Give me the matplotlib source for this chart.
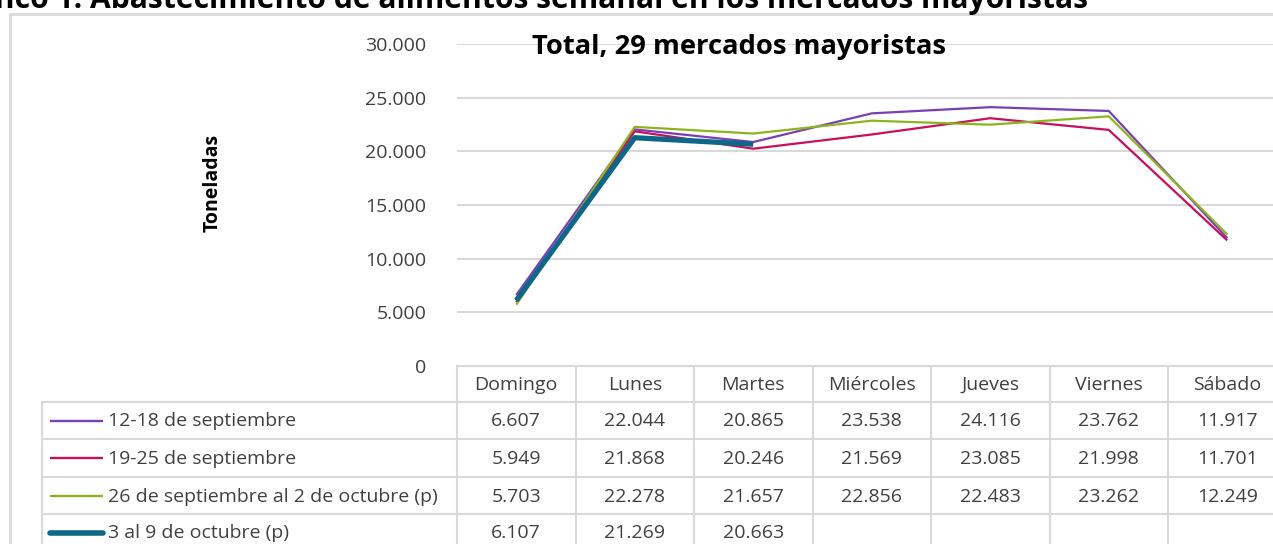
import matplotlib
matplotlib.use("Agg")
import matplotlib.pyplot as plt
from matplotlib.lines import Line2D

plt.rcParams['font.family'] = ['Open Sans', 'DejaVu Sans']

days = ["Domingo", "Lunes", "Martes", "Miércoles", "Jueves", "Viernes", "Sábado"]
series_names = [
    "12-18 de septiembre",
    "19-25 de septiembre",
    "26 de septiembre al 2 de octubre (p)",
    "3 al 9 de octubre (p)",
]
sep_12_18 = [6607, 22044, 20865, 23538, 24116, 23762, 11917]
sep_19_25 = [5949, 21868, 20246, 21569, 23085, 21998, 11701]
sep26_oct2 = [5703, 22278, 21657, 22856, 22483, 23262, 12249]
oct_3_9 = [6107, 21269, 20663]
yticks = [0, 5000, 10000, 15000, 20000, 25000, 30000]

colors = ['#7B3FB5', '#C8105A', '#8DB31E', '#0E6688']
widths = [1.6, 1.6, 1.6, 3.8]
all_series = [sep_12_18, sep_19_25, sep26_oct2, oct_3_9]

W, H = 1273, 544
GRID = '#D9D9D9'
TXT = '#404040'

fig = plt.figure(figsize=(W / 100, H / 100), dpi=100)

# plot area: columns start at 457px, 118.5px each (last one runs off the image)
x0, colw, y0, y30 = 457, 118.5, 366, 44
ax = fig.add_axes([x0 / W, 1 - y0 / H, 7 * colw / W, (y0 - y30) / H])
for vals, c, lw in zip(all_series, colors, widths):
    ax.plot(range(len(vals)), vals, color=c, lw=lw, solid_capstyle='butt', zorder=3)
ax.set_xlim(-0.5, 6.5)
ax.set_ylim(0, 30000)
ax.set_yticks(yticks)
ax.set_yticklabels([f"{v:,}".replace(",", ".") for v in yticks])
ax.set_xticks([])
ax.tick_params(axis='y', length=0, pad=22, labelsize=14, labelcolor=TXT)
ax.yaxis.grid(True, color=GRID, lw=1.5)
ax.set_axisbelow(True)
for s in ax.spines.values():
    s.set_visible(False)

fig.text(532 / W, 1 - 54 / H, "Total, 29 mercados mayoristas", ha='left',
         va='baseline', fontsize=19.7, fontweight='bold', color='black')

# data table under the plot, sharing the day positions of the plot
tb = fig.add_axes([x0 / W, 0, 7 * colw / W, (H - y0) / H])
tb.set_xlim(-0.5, 6.5)
tb.set_ylim(H - y0, 0)
tb.axis('off')
leg_left = -0.5 - (x0 - 42) / colw
rows = [0, 36, 73, 111, 148, 185]
kw = dict(color=GRID, lw=1.5, clip_on=False)
tb.plot([-0.5, 7.5], [rows[0]] * 2, **kw)
for r in rows[1:]:
    tb.plot([leg_left, 7.5], [r, r], **kw)
for k in range(8):
    tb.plot([k - 0.5] * 2, [rows[0], rows[-1]], **kw)
tb.plot([leg_left] * 2, [rows[1], rows[-1]], **kw)

for i, d in enumerate(days):
    tb.text(i, (rows[0] + rows[1]) / 2 + 1, d, ha='center', va='center',
            fontsize=14, color=TXT, clip_on=False)

for j, (name, vals, c, lw) in enumerate(zip(series_names, all_series, colors, widths)):
    yc = (rows[j + 1] + rows[j + 2]) / 2
    tb.add_line(Line2D([leg_left + 8 / colw, leg_left + 61 / colw], [yc, yc], color=c,
                       lw=lw * 1.05, solid_capstyle='round' if lw > 2 else 'butt',
                       clip_on=False))
    tb.text(leg_left + 66 / colw, yc + 1, name, ha='left', va='center', fontsize=14,
            color=TXT, clip_on=False)
    for i, v in enumerate(vals):
        tb.text(i, yc + 1, f"{v:,}".replace(",", "."), ha='center', va='center',
                fontsize=14, color=TXT, clip_on=False)

fig.text(213 / W, 1 - 183 / H, "Toneladas", rotation=90, ha='center', va='center',
         fontsize=14, fontweight='bold', color='black')

fig.text(1088 / W, 1 - 8 / H,
         "Gráfico 1. Abastecimiento de alimentos semanal en los mercados mayoristas",
         ha='right', va='baseline', fontsize=21.6, fontweight='bold', color='black')

fig.add_artist(plt.Rectangle((10 / W, -0.1), 1.2, (H - 14) / H + 0.1,
                             transform=fig.transFigure, fill=False, ec=GRID, lw=2))

fig.savefig("out.png", dpi=100)
